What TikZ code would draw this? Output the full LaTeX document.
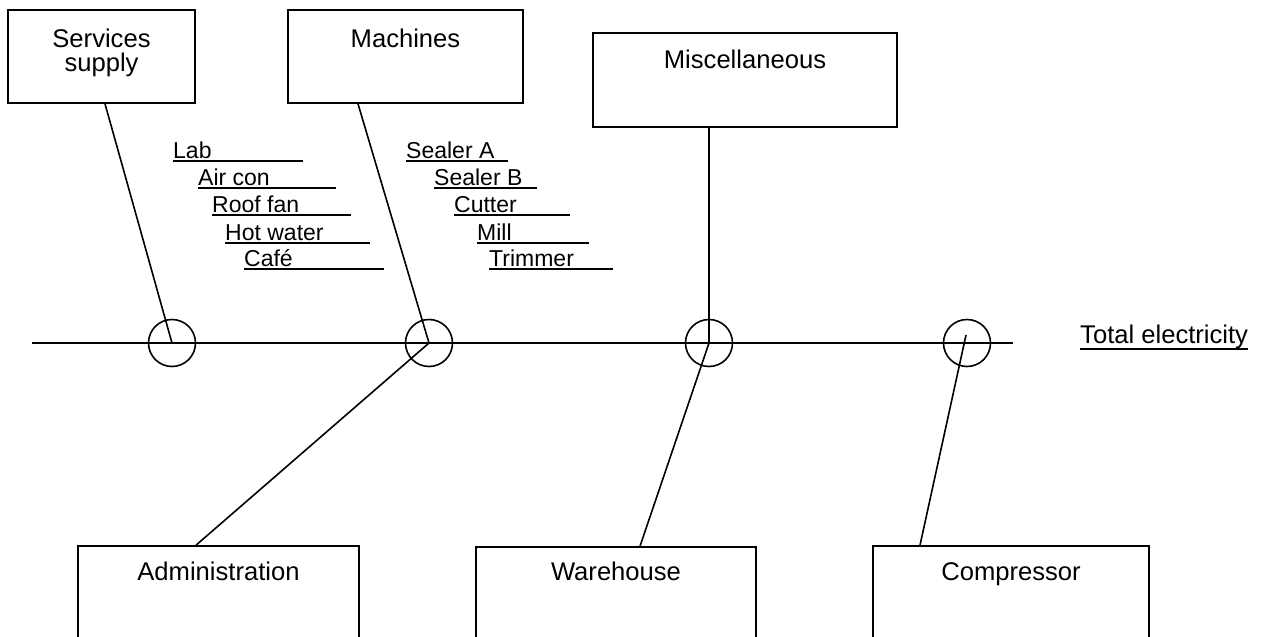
\documentclass[tikz,border=0pt]{standalone}
\usepackage{fontspec}
\setmainfont{Liberation Sans}
\usetikzlibrary{calc}
\begin{document}
\begin{tikzpicture}[x=1pt,y=-1pt,
  ln/.style={line width=1.6pt},
  boxn/.style={draw, line width=1.6pt, rectangle, inner sep=0pt},
  hub/.style={draw, circle, line width=1.6pt, minimum size=47pt, inner sep=0pt},
  bt/.style={font=\fontsize{25.6}{30}\selectfont, inner sep=0pt, anchor=base},
  it/.style={font=\fontsize{23}{27}\selectfont, inner sep=0pt, anchor=base west},
  ul/.style={line width=1.5pt}]
\useasboundingbox (0,0) rectangle (1269,637);

% boxes
\node[boxn, minimum width=187pt, minimum height=93pt] (serv) at (101.5,56.5) {};
\node[boxn, minimum width=235pt, minimum height=93pt] (mach) at (405.5,56.5) {};
\node[boxn, minimum width=304pt, minimum height=94pt] (misc) at (745,80) {};
\node[boxn, minimum width=281pt, minimum height=94pt] (admin) at (218.5,593) {};
\node[boxn, minimum width=280pt, minimum height=94pt] (ware) at (616,594) {};
\node[boxn, minimum width=276pt, minimum height=94pt] (comp) at (1011,593) {};

% box texts
\node[bt] (servA) at (101.5,47) {Services};
\node[bt] (servB) at (101.5,71) {supply};
\node[bt] (machT) at (405.5,47) {Machines};
\node[bt] (miscT) at (745,68) {Miscellaneous};
\node[bt] (adminT) at (218.5,580) {Administration};
\node[bt] (wareT) at (616,580) {Warehouse};
\node[bt] (compT) at (1011,580) {Compressor};

% total electricity
\node[bt, anchor=base west] (total) at (1080,343) {Total electricity};
\draw[ul] ($(total.base west)+(0,6)$) -- ($(total.base east)+(0,6)$);

% spine and hubs
\coordinate (mainL) at (32,343);
\coordinate (mainR) at (1013,343);
\draw[ln] (mainL) -- (mainR);
\node[hub] (c1) at (172,343) {};
\node[hub] (c2) at (429,343) {};
\node[hub] (c3) at (709,343) {};
\node[hub] (c4) at (967,343) {};

% connectors
\draw[ln] ($(serv.south)+(3.5,0)$) -- (c1.center);
\draw[ln] ($(mach.south)+(-47.5,0)$) -- (c2.center);
\draw[ln] ($(misc.south)+(-36,0)$) -- (c3.center);
\draw[ln] (c2.center) -- ($(admin.north)+(-22.5,0)$);
\draw[ln] (c3.center) -- ($(ware.north)+(24,0)$);
\draw[ln] ($(c4.center)+(-1,-8)$) -- ($(comp.north)+(-91,0)$);

% services list
\node[it] (lab) at (173,158) {Lab};
\draw[ul] ($(lab.base west)+(0,3)$) -- ++(130,0);
\node[it] (aircon) at (198,185) {Air con};
\draw[ul] ($(aircon.base west)+(0,3)$) -- ++(138,0);
\node[it] (roof) at (212,212) {Roof fan};
\draw[ul] ($(roof.base west)+(0,3)$) -- ++(139,0);
\node[it] (hotw) at (225,240) {Hot water};
\draw[ul] ($(hotw.base west)+(0,3)$) -- ++(145,0);
\node[it] (cafe) at (244,266) {Café};
\draw[ul] ($(cafe.base west)+(0,3)$) -- ++(140,0);

% machines list
\node[it] (sealA) at (406,158) {Sealer A};
\draw[ul] ($(sealA.base west)+(0,3)$) -- ++(102,0);
\node[it] (sealB) at (434,185) {Sealer B};
\draw[ul] ($(sealB.base west)+(0,3)$) -- ++(103,0);
\node[it] (cutter) at (454,212) {Cutter};
\draw[ul] ($(cutter.base west)+(0,3)$) -- ++(116,0);
\node[it] (mill) at (477,240) {Mill};
\draw[ul] ($(mill.base west)+(0,3)$) -- ++(112,0);
\node[it] (trim) at (489,266) {Trimmer};
\draw[ul] ($(trim.base west)+(0,3)$) -- ++(124,0);
\end{tikzpicture}
\end{document}
